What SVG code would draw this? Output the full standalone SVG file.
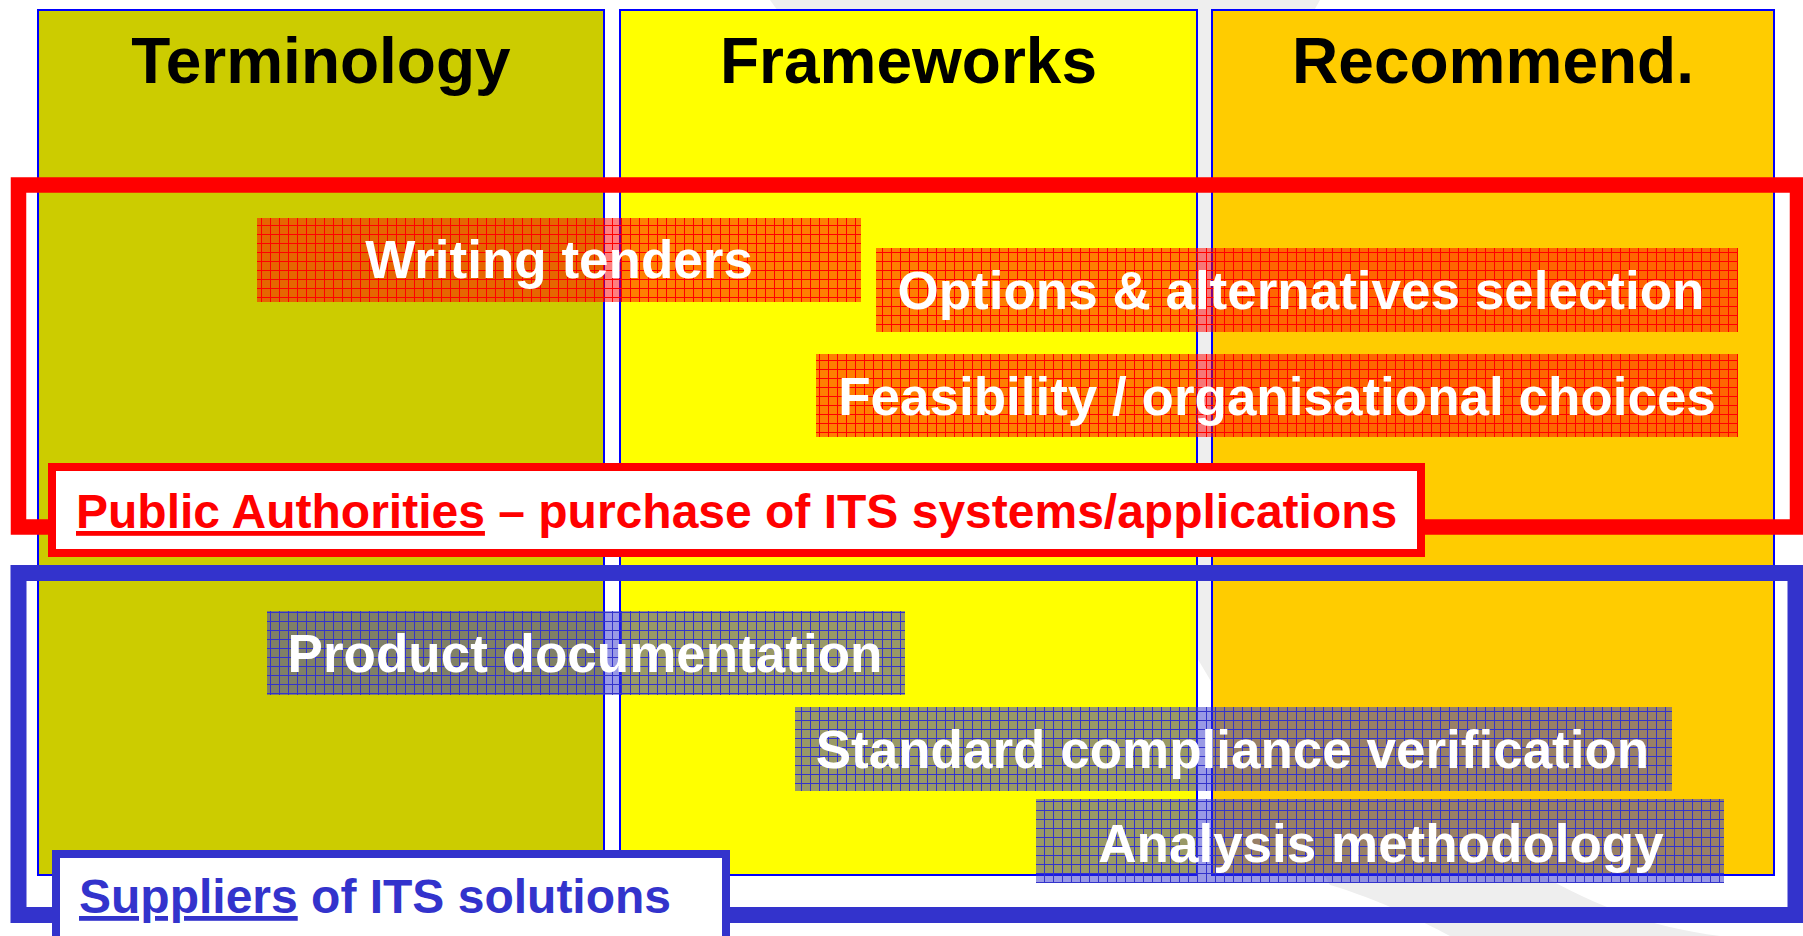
<svg xmlns="http://www.w3.org/2000/svg" width="1803" height="936" viewBox="0 0 1803 936">
  <style>
    .col { stroke: #0000FF; stroke-width: 2; }
    .title { font-family: "Liberation Sans", Arial, sans-serif; font-weight: bold; font-size: 64px; fill: #000000; text-anchor: middle; }
    .boxtxt { font-family: "Liberation Sans", Arial, sans-serif; font-weight: bold; font-size: 53px; fill: #FFFFFF; text-anchor: middle; }
    .lbl { font-family: "Liberation Sans", Arial, sans-serif; font-weight: bold; font-size: 48px; }
    .frame { fill: none; }
    .lblbox { fill: #FFFFFF; stroke-width: 8; }
  </style>
  <defs>
    <pattern id="gridRed" patternUnits="userSpaceOnUse" width="9" height="9">
      <rect width="9" height="9" fill="#FF0000" fill-opacity="0.5"/>
      <path d="M0 0.5 H9 M0.5 0 V9" stroke="#FF0000" stroke-width="1" fill="none" shape-rendering="crispEdges"/>
    </pattern>
    <pattern id="gridBlue" patternUnits="userSpaceOnUse" width="9" height="9">
      <rect width="9" height="9" fill="#3333CC" fill-opacity="0.5"/>
      <path d="M0 0.5 H9 M0.5 0 V9" stroke="#3333CC" stroke-width="1" fill="none" shape-rendering="crispEdges"/>
    </pattern>
  </defs>
  <rect width="1803" height="936" fill="#FFFFFF"/>
  <path d="M770 0 C 950 250, 1120 520, 1330 885 C 1380 900, 1420 920, 1450 936 L 1720 936 C 1550 915, 1400 800, 1300 600 C 1230 420, 1230 150, 1320 0 Z" fill="#EEEEEE"/>

  <g id="col-terminology">
    <rect class="col" x="38" y="10" width="566" height="865" fill="#CCCC00"/>
    <text class="title" x="321" y="83">Terminology</text>
  </g>
  <g id="col-frameworks">
    <rect class="col" x="620" y="10" width="577" height="865" fill="#FFFF00"/>
    <text class="title" x="908.5" y="83">Frameworks</text>
  </g>
  <g id="col-recommend">
    <rect class="col" x="1212" y="10" width="562" height="865" fill="#FFCC00"/>
    <text class="title" x="1493" y="83">Recommend.</text>
  </g>

  <g id="public-authorities">
    <rect class="frame" x="18.5" y="185" width="1779" height="342" stroke="#FF0000" stroke-width="15.5"/>
    <rect class="lblbox" x="52" y="467" width="1369" height="86" stroke="#FF0000"/>
    <text class="lbl" x="76" y="528" fill="#FF0000"><tspan text-decoration="underline">Public Authorities</tspan> – purchase of ITS systems/applications</text>
  </g>

  <g id="suppliers">
    <rect class="frame" x="18.5" y="573" width="1777" height="342" stroke="#3333CC" stroke-width="16"/>
    <rect class="lblbox" x="56" y="854" width="670" height="110" stroke="#3333CC"/>
    <text class="lbl" x="79" y="913" fill="#3333CC"><tspan text-decoration="underline">Suppliers</tspan> of ITS solutions</text>
  </g>

  <g id="writing-tenders">
    <rect x="257" y="218" width="604" height="84" fill="url(#gridRed)"/>
    <text class="boxtxt" x="559" y="278">Writing tenders</text>
  </g>
  <g id="options-alternatives">
    <rect x="876" y="248" width="862" height="84" fill="url(#gridRed)"/>
    <text class="boxtxt" x="1301" y="309">Options &amp; alternatives selection</text>
  </g>
  <g id="feasibility">
    <rect x="816" y="354" width="922" height="83" fill="url(#gridRed)"/>
    <text class="boxtxt" x="1277" y="415">Feasibility / organisational choices</text>
  </g>
  <g id="product-documentation">
    <rect x="267" y="611" width="638" height="84" fill="url(#gridBlue)"/>
    <text class="boxtxt" x="585" y="672">Product documentation</text>
  </g>
  <g id="standard-compliance">
    <rect x="795" y="707" width="877" height="84" fill="url(#gridBlue)"/>
    <text class="boxtxt" x="1232.5" y="768">Standard compliance verification</text>
  </g>
  <g id="analysis-methodology">
    <rect x="1036" y="799" width="688" height="84" fill="url(#gridBlue)"/>
    <text class="boxtxt" x="1381" y="862">Analysis methodology</text>
  </g>

  <g id="connectors"></g>
</svg>
